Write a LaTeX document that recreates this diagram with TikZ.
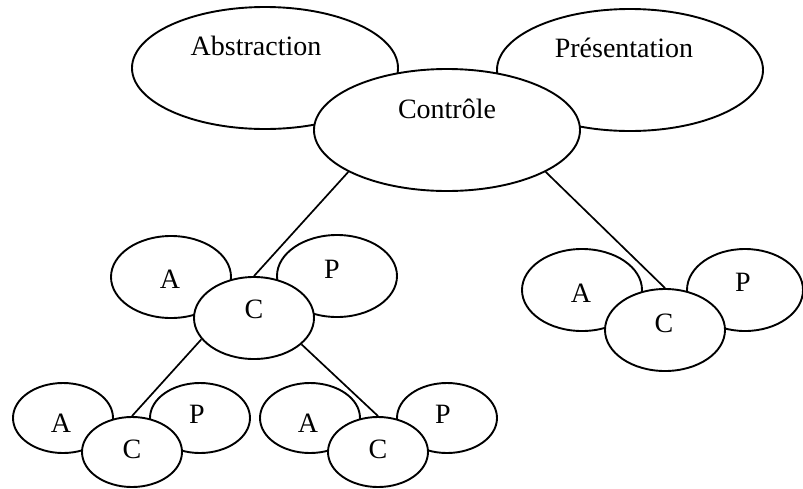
\documentclass[tikz,border=0pt]{standalone}
\usepackage{fontspec}
\setmainfont{Liberation Serif}
\usetikzlibrary{shapes.geometric}
\begin{document}
\begin{tikzpicture}[x=1pt,y=-1pt,
  blob/.style={ellipse,draw,line width=1.9pt,fill=white,inner sep=0pt},
  big/.style={blob,minimum width=266pt,minimum height=122pt},
  mid/.style={blob,minimum width=120pt,minimum height=82pt},
  small/.style={blob,minimum width=100pt,minimum height=70pt},
  lbl/.style={anchor=base,inner sep=0pt,font=\fontsize{28}{31}\selectfont},
  link/.style={line width=1.7pt}]
\useasboundingbox (0,0) rectangle (803,488);

% top level: abstraction and presentation behind the controller
\node[big] (abs) at (265,68) {};
\node[big] (pres) at (630,70) {};
\node[big] (ctrl) at (447,130) {};
\node[lbl] (tabs) at (256,55) {Abstraction};
\node[lbl] (tpres) at (624,57) {Présentation};
\node[lbl] (tctrl) at (447,118) {Contrôle};

% second level, left agent
\node[mid] (am) at (171,277) {};
\node[mid] (pm) at (337,276) {};
\node[mid] (cm) at (254,318) {};
\node[lbl] (tam) at (170,288) {A};
\node[lbl] (tpm) at (332,278) {P};
\node[lbl] (tcm) at (254,318) {C};

% second level, right agent
\node[mid] (ar) at (582,290) {};
\node[mid,minimum width=116pt] (pr) at (745,290) {};
\node[mid] (cr) at (665,330) {};
\node[lbl] (tar) at (581,302) {A};
\node[lbl] (tpr) at (743,291) {P};
\node[lbl] (tcr) at (664,332) {C};

% third level, two agents under the left one
\node[small] (a1) at (63,418) {};
\node[small] (p1) at (200,418) {};
\node[small] (c1) at (132,452) {};
\node[lbl] (ta1) at (61,432) {A};
\node[lbl] (tp1) at (197,423) {P};
\node[lbl] (tc1) at (132,458) {C};

\node[small] (a2) at (310,418) {};
\node[small] (p2) at (447,418) {};
\node[small] (c2) at (378,452) {};
\node[lbl] (ta2) at (308,432) {A};
\node[lbl] (tp2) at (443,423) {P};
\node[lbl] (tc2) at (378,458) {C};

% links between controllers
\draw[link] (ctrl.203.8) -- (cm.north);
\draw[link] (ctrl.337.3) -- (cr.north);
\draw[link] (cm.202.9) -- (c1.north);
\draw[link] (cm.331.4) -- (c2.north);
\end{tikzpicture}
\end{document}
